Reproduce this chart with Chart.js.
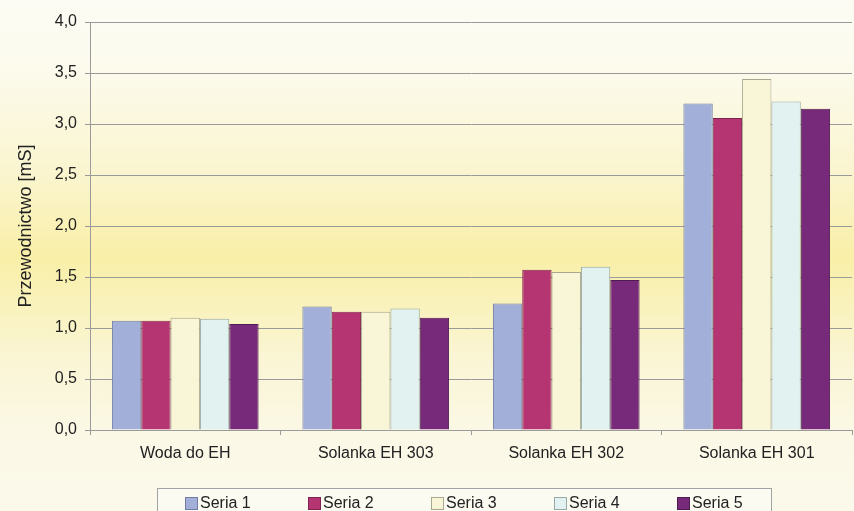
<!DOCTYPE html>
<html>
<head>
<meta charset="utf-8">
<script src="https://cdn.jsdelivr.net/npm/chart.js@4/dist/chart.umd.min.js"></script>
<style>
  html, body { margin: 0; padding: 0; background: #fbf9ec; }
  #wrap { width: 854px; height: 511px; }
  canvas { display: block; }
</style>
</head>
<body>
<div id="wrap"><canvas id="chart" width="854" height="511"></canvas></div>
<script>
// Conductivity per sample type, five measurement series
const categories = ['Woda do EH', 'Solanka EH 303', 'Solanka EH 302', 'Solanka EH 301'];
const seriesNames = ['Seria 1', 'Seria 2', 'Seria 3', 'Seria 4', 'Seria 5'];
const seria1 = [1.07, 1.21, 1.24, 3.20];
const seria2 = [1.07, 1.16, 1.57, 3.06];
const seria3 = [1.10, 1.16, 1.55, 3.44];
const seria4 = [1.09, 1.19, 1.60, 3.22];
const seria5 = [1.04, 1.10, 1.47, 3.15];
const yTicks = [0, 0.5, 1.0, 1.5, 2.0, 2.5, 3.0, 3.5, 4.0];
const yTitle = 'Przewodnictwo [mS]';

const seriesValues = [seria1, seria2, seria3, seria4, seria5];
const fills   = ['#a2b0d9', '#b43572', '#f8f6d6', '#e1f2f1', '#772a7a'];
const borders = ['#707ca4', '#7e2450', '#a9a78f', '#97a8a6', '#4f1c52'];

const FONT = "'Liberation Sans', Arial, sans-serif";

// Soft cream-to-yellow backdrop behind the whole figure
const backdrop = {
  id: 'backdrop',
  beforeDraw(chart) {
    const { ctx, width, height } = chart;
    const g = ctx.createLinearGradient(0, 0, 0, height);
    g.addColorStop(0.00, '#fdfcf4');
    g.addColorStop(0.12, '#fcfbee');
    g.addColorStop(0.34, '#faf5cf');
    g.addColorStop(0.50, '#f9efa8');
    g.addColorStop(0.56, '#f9f1b4');
    g.addColorStop(0.70, '#faf5d4');
    g.addColorStop(0.85, '#fbf8e6');
    g.addColorStop(1.00, '#fbf9ea');
    ctx.save();
    ctx.fillStyle = g;
    ctx.fillRect(0, 0, width, height);
    ctx.restore();
  }
};

// Boxed legend along the bottom edge
const boxedLegend = {
  id: 'boxedLegend',
  afterDraw(chart) {
    const { ctx } = chart;
    const left = 157, top = 488, right = 771;
    ctx.save();
    ctx.fillStyle = '#fcfbf2';
    ctx.fillRect(left, top, right - left, 40);
    ctx.strokeStyle = '#a3a3a3';
    ctx.lineWidth = 1;
    ctx.strokeRect(left + 0.5, top + 0.5, right - left, 40);
    ctx.font = '16px ' + FONT;
    ctx.textBaseline = 'middle';
    ctx.textAlign = 'left';
    chart.data.datasets.forEach((ds, i) => {
      const x = 185 + i * 123;
      ctx.fillStyle = ds.backgroundColor;
      ctx.fillRect(x, 497, 12, 12);
      ctx.strokeStyle = ds.borderColor;
      ctx.strokeRect(x + 0.5, 497.5, 12, 12);
      ctx.fillStyle = '#222';
      ctx.fillText(ds.label, x + 15, 504);
    });
    ctx.restore();
  }
};

new Chart(document.getElementById('chart'), {
  type: 'bar',
  data: {
    labels: categories,
    datasets: seriesNames.map((name, i) => ({
      label: name,
      data: seriesValues[i],
      backgroundColor: fills[i],
      borderColor: borders[i],
      borderWidth: 1,
      categoryPercentage: 0.77,
      barPercentage: 1.0
    }))
  },
  options: {
    responsive: false,
    animation: false,
    devicePixelRatio: 1,
    layout: { padding: { top: 22, right: 2, left: 0, bottom: 0 } },
    plugins: {
      legend: { display: false },
      tooltip: { enabled: false }
    },
    scales: {
      x: {
        grid: {
          drawOnChartArea: false,
          drawTicks: true,
          tickLength: 5,
          color: '#9a9a9a',
          offset: true
        },
        border: { color: '#9a9a9a', width: 1 },
        ticks: {
          color: '#222',
          font: { family: FONT, size: 16 },
          padding: 9,
          maxRotation: 0
        },
        afterFit(scale) { scale.height = 81; }
      },
      y: {
        min: 0,
        max: 4,
        afterBuildTicks(scale) { scale.ticks = yTicks.map(v => ({ value: v })); },
        grid: {
          color: '#9a9a9a',
          tickLength: 5,
          drawTicks: true
        },
        border: { color: '#9a9a9a', width: 1 },
        ticks: {
          color: '#222',
          font: { family: FONT, size: 16 },
          padding: 8,
          callback: v => v.toFixed(1).replace('.', ',')
        },
        title: {
          display: true,
          text: yTitle,
          color: '#222',
          font: { family: FONT, size: 18 },
          padding: { top: 15, bottom: 0 }
        },
        afterFit(scale) { scale.width = 90; }
      }
    }
  },
  plugins: [backdrop, boxedLegend]
});
</script>
</body>
</html>
